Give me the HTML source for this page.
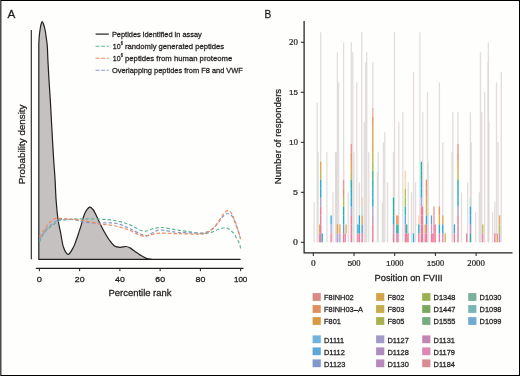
<!DOCTYPE html>
<html><head><meta charset="utf-8"><style>
html,body{margin:0;padding:0;background:#fff;}
#c{position:relative;width:520px;height:376px;overflow:hidden;background:#fefefd;}
.b{position:absolute;}
svg text{stroke:#231f20;stroke-width:0.28px;}
svg text.tk{stroke-width:0.2px;}
</style></head><body><div id="c">
<svg width="520" height="376" viewBox="0 0 520 376" style="position:absolute;left:0;top:0;will-change:transform">
<g font-family="Liberation Sans" fill="#231f20">
<path d="M38.8,259.3 L38.8,44  C38.87,42.83 39.00,39.33 39.20,37.00 C39.40,34.67 39.70,32.08 40.00,30.00 C40.30,27.92 40.62,25.92 41.00,24.50 C41.38,23.08 41.87,21.50 42.30,21.50 C42.73,21.50 43.13,23.08 43.60,24.50 C44.07,25.92 44.65,27.75 45.10,30.00 C45.55,32.25 45.93,35.33 46.30,38.00 C46.67,40.67 47.03,42.33 47.30,46.00 C47.57,49.67 47.62,54.33 47.90,60.00 C48.18,65.67 48.60,73.33 49.00,80.00 C49.40,86.67 49.90,93.33 50.30,100.00 C50.70,106.67 51.03,113.33 51.40,120.00 C51.77,126.67 52.12,133.33 52.50,140.00 C52.88,146.67 53.27,153.33 53.70,160.00 C54.13,166.67 54.70,173.33 55.10,180.00 C55.50,186.67 55.60,193.33 56.10,200.00 C56.60,206.67 57.33,214.47 58.10,220.00 C58.87,225.53 59.80,228.65 60.70,233.20 C61.60,237.75 62.25,243.77 63.50,247.30 C64.75,250.83 66.55,254.40 68.20,254.40 C69.85,254.40 72.07,249.65 73.40,247.30 C74.73,244.95 75.33,242.65 76.20,240.30 C77.07,237.95 77.82,235.55 78.60,233.20 C79.38,230.85 80.20,228.55 80.90,226.20 C81.60,223.85 82.05,221.47 82.80,219.10 C83.55,216.73 84.25,214.00 85.40,212.00 C86.55,210.00 88.43,207.52 89.70,207.10 C90.97,206.68 91.93,208.18 93.00,209.50 C94.07,210.82 95.02,212.85 96.10,215.00 C97.18,217.15 98.12,219.57 99.50,222.40 C100.88,225.23 102.77,229.07 104.40,232.00 C106.03,234.93 107.67,237.70 109.30,240.00 C110.93,242.30 112.42,244.57 114.20,245.80 C115.98,247.03 118.03,247.28 120.00,247.40 C121.97,247.52 124.33,246.42 126.00,246.50 C127.67,246.58 128.50,247.08 130.00,247.90 C131.50,248.72 133.08,250.08 135.00,251.40 C136.92,252.72 139.50,254.60 141.50,255.80 C143.50,257.00 145.25,258.02 147.00,258.60 C148.75,259.18 151.17,259.18 152.00,259.30 L240.6,259.3 Z" fill="#c5c1c0" stroke="#231f20" stroke-width="1.2"/>
<path d="M39.50,242.20 C40.25,240.67 42.25,235.48 44.00,233.00 C45.75,230.52 48.17,228.87 50.00,227.30 C51.83,225.73 53.33,224.73 55.00,223.60 C56.67,222.47 57.50,221.22 60.00,220.50 C62.50,219.78 65.83,219.58 70.00,219.30 C74.17,219.02 80.00,218.82 85.00,218.80 C90.00,218.78 95.83,219.03 100.00,219.20 C104.17,219.37 106.67,219.40 110.00,219.80 C113.33,220.20 116.67,220.75 120.00,221.60 C123.33,222.45 126.08,223.30 130.00,224.90 C133.92,226.50 139.83,230.52 143.50,231.20 C147.17,231.88 148.97,229.62 152.00,229.00 C155.03,228.38 157.87,227.38 161.70,227.50 C165.53,227.62 171.12,229.10 175.00,229.70 C178.88,230.30 180.83,230.47 185.00,231.10 C189.17,231.73 196.67,233.07 200.00,233.50 C203.33,233.93 203.00,233.93 205.00,233.70 C207.00,233.47 209.83,232.80 212.00,232.10 C214.17,231.40 215.72,230.23 218.00,229.50 C220.28,228.77 223.70,227.62 225.70,227.70 C227.70,227.78 228.62,229.00 230.00,230.00 C231.38,231.00 232.83,232.20 234.00,233.70 C235.17,235.20 236.08,237.32 237.00,239.00 C237.92,240.68 238.90,242.23 239.50,243.80 C240.10,245.37 240.42,247.63 240.60,248.40" fill="none" stroke="#5fb497" stroke-width="1.2" stroke-dasharray="3.5,2.1"/>
<path d="M39.50,239.60 C40.42,238.17 43.25,233.32 45.00,231.00 C46.75,228.68 48.33,227.20 50.00,225.70 C51.67,224.20 53.67,222.97 55.00,222.00 C56.33,221.03 56.33,220.35 58.00,219.90 C59.67,219.45 62.17,219.32 65.00,219.30 C67.83,219.28 71.67,219.30 75.00,219.80 C78.33,220.30 80.83,221.77 85.00,222.30 C89.17,222.83 95.83,222.92 100.00,223.00 C104.17,223.08 106.67,222.57 110.00,222.80 C113.33,223.03 116.67,223.40 120.00,224.40 C123.33,225.40 125.83,226.95 130.00,228.80 C134.17,230.65 141.33,234.80 145.00,235.50 C148.67,236.20 149.50,233.92 152.00,233.00 C154.50,232.08 156.17,230.15 160.00,230.00 C163.83,229.85 170.83,231.65 175.00,232.10 C179.17,232.55 180.83,232.55 185.00,232.70 C189.17,232.85 196.67,233.02 200.00,233.00 C203.33,232.98 203.33,233.00 205.00,232.60 C206.67,232.20 208.33,231.62 210.00,230.60 C211.67,229.58 213.33,228.18 215.00,226.50 C216.67,224.82 218.67,222.17 220.00,220.50 C221.33,218.83 221.83,217.67 223.00,216.50 C224.17,215.33 225.50,213.58 227.00,213.50 C228.50,213.42 230.67,214.50 232.00,216.00 C233.33,217.50 234.00,220.08 235.00,222.50 C236.00,224.92 237.07,227.75 238.00,230.50 C238.93,233.25 240.17,237.58 240.60,239.00" fill="none" stroke="#8898ca" stroke-width="1.2" stroke-dasharray="3.5,2.1"/>
<path d="M39.50,236.90 C40.42,235.48 43.25,230.88 45.00,228.40 C46.75,225.92 48.33,223.63 50.00,222.00 C51.67,220.37 53.67,219.22 55.00,218.60 C56.33,217.98 56.33,218.27 58.00,218.30 C59.67,218.33 62.17,218.60 65.00,218.80 C67.83,219.00 71.67,219.17 75.00,219.50 C78.33,219.83 80.83,220.05 85.00,220.80 C89.17,221.55 95.83,223.30 100.00,224.00 C104.17,224.70 106.67,224.47 110.00,225.00 C113.33,225.53 116.67,226.30 120.00,227.20 C123.33,228.10 126.17,228.90 130.00,230.40 C133.83,231.90 139.33,235.52 143.00,236.20 C146.67,236.88 149.17,235.02 152.00,234.50 C154.83,233.98 156.17,233.25 160.00,233.10 C163.83,232.95 170.83,233.48 175.00,233.60 C179.17,233.72 180.83,233.70 185.00,233.80 C189.17,233.90 196.67,234.30 200.00,234.20 C203.33,234.10 203.33,233.72 205.00,233.20 C206.67,232.68 208.33,232.25 210.00,231.10 C211.67,229.95 213.33,228.25 215.00,226.30 C216.67,224.35 218.67,221.35 220.00,219.40 C221.33,217.45 221.68,216.12 223.00,214.60 C224.32,213.08 226.40,210.40 227.90,210.30 C229.40,210.20 230.82,212.22 232.00,214.00 C233.18,215.78 234.00,218.33 235.00,221.00 C236.00,223.67 237.07,226.97 238.00,230.00 C238.93,233.03 240.17,237.67 240.60,239.20" fill="none" stroke="#ee895e" stroke-width="1.2" stroke-dasharray="3.5,2.1"/>
<line x1="31.3" y1="30" x2="31.3" y2="259.3" stroke="#231f20" stroke-width="1.1"/>
<line x1="35.9" y1="268.4" x2="243.5" y2="268.4" stroke="#231f20" stroke-width="1.15"/>
<line x1="39.40" y1="268.4" x2="39.40" y2="271.2" stroke="#231f20" stroke-width="1"/><line x1="79.65" y1="268.4" x2="79.65" y2="271.2" stroke="#231f20" stroke-width="1"/><line x1="119.90" y1="268.4" x2="119.90" y2="271.2" stroke="#231f20" stroke-width="1"/><line x1="160.15" y1="268.4" x2="160.15" y2="271.2" stroke="#231f20" stroke-width="1"/><line x1="200.40" y1="268.4" x2="200.40" y2="271.2" stroke="#231f20" stroke-width="1"/><line x1="240.65" y1="268.4" x2="240.65" y2="271.2" stroke="#231f20" stroke-width="1"/>
<line x1="95.6" y1="34.1" x2="108.8" y2="34.1" stroke="#231f20" stroke-width="1.2"/>
<line x1="95.6" y1="46.2" x2="108.8" y2="46.2" stroke="#5fb497" stroke-width="1.1" stroke-dasharray="4,1.6"/>
<line x1="95.6" y1="58.3" x2="108.8" y2="58.3" stroke="#ee895e" stroke-width="1.1" stroke-dasharray="4,1.6"/>
<line x1="95.6" y1="70.3" x2="108.8" y2="70.3" stroke="#8898ca" stroke-width="1.1" stroke-dasharray="4,1.6"/>
<rect x="313.45" y="202.30" width="1.3" height="40.00" fill="#d9d1d1" fill-opacity="0.75"/>
<rect x="316.55" y="102.30" width="1.3" height="140.00" fill="#d9d1d1" fill-opacity="0.75"/>
<rect x="317.45" y="152.30" width="1.3" height="90.00" fill="#d9d1d1" fill-opacity="0.75"/>
<rect x="320.05" y="32.30" width="1.3" height="210.00" fill="#d9d1d1" fill-opacity="0.75"/>
<rect x="326.25" y="152.30" width="1.3" height="90.00" fill="#d9d1d1" fill-opacity="0.75"/>
<rect x="332.25" y="192.30" width="1.3" height="50.00" fill="#d9d1d1" fill-opacity="0.75"/>
<rect x="334.95" y="152.30" width="1.3" height="90.00" fill="#d9d1d1" fill-opacity="0.75"/>
<rect x="335.75" y="152.30" width="1.3" height="90.00" fill="#d9d1d1" fill-opacity="0.75"/>
<rect x="336.75" y="52.30" width="1.3" height="190.00" fill="#d9d1d1" fill-opacity="0.75"/>
<rect x="337.95" y="82.30" width="1.3" height="160.00" fill="#d9d1d1" fill-opacity="0.75"/>
<rect x="342.95" y="42.30" width="1.3" height="200.00" fill="#d9d1d1" fill-opacity="0.75"/>
<rect x="347.55" y="192.30" width="1.3" height="50.00" fill="#d9d1d1" fill-opacity="0.75"/>
<rect x="350.65" y="42.30" width="1.3" height="200.00" fill="#d9d1d1" fill-opacity="0.75"/>
<rect x="352.15" y="52.30" width="1.3" height="190.00" fill="#d9d1d1" fill-opacity="0.75"/>
<rect x="353.25" y="152.30" width="1.3" height="90.00" fill="#d9d1d1" fill-opacity="0.75"/>
<rect x="356.15" y="82.30" width="1.3" height="160.00" fill="#d9d1d1" fill-opacity="0.75"/>
<rect x="358.75" y="182.30" width="1.3" height="60.00" fill="#d9d1d1" fill-opacity="0.75"/>
<rect x="361.05" y="32.30" width="1.3" height="210.00" fill="#d9d1d1" fill-opacity="0.75"/>
<rect x="363.65" y="122.30" width="1.3" height="120.00" fill="#d9d1d1" fill-opacity="0.75"/>
<rect x="365.05" y="62.30" width="1.3" height="180.00" fill="#d9d1d1" fill-opacity="0.75"/>
<rect x="366.05" y="52.30" width="1.3" height="190.00" fill="#d9d1d1" fill-opacity="0.75"/>
<rect x="368.15" y="152.30" width="1.3" height="90.00" fill="#d9d1d1" fill-opacity="0.75"/>
<rect x="372.15" y="62.30" width="1.3" height="180.00" fill="#d9d1d1" fill-opacity="0.75"/>
<rect x="376.85" y="172.30" width="1.3" height="70.00" fill="#d9d1d1" fill-opacity="0.75"/>
<rect x="377.55" y="152.30" width="1.3" height="90.00" fill="#d9d1d1" fill-opacity="0.75"/>
<rect x="381.75" y="202.30" width="1.3" height="40.00" fill="#d9d1d1" fill-opacity="0.75"/>
<rect x="382.85" y="142.30" width="1.3" height="100.00" fill="#d9d1d1" fill-opacity="0.75"/>
<rect x="384.15" y="132.30" width="1.3" height="110.00" fill="#d9d1d1" fill-opacity="0.75"/>
<rect x="386.85" y="182.30" width="1.3" height="60.00" fill="#d9d1d1" fill-opacity="0.75"/>
<rect x="392.85" y="152.30" width="1.3" height="90.00" fill="#d9d1d1" fill-opacity="0.75"/>
<rect x="393.85" y="32.30" width="1.3" height="210.00" fill="#d9d1d1" fill-opacity="0.75"/>
<rect x="398.15" y="122.30" width="1.3" height="120.00" fill="#d9d1d1" fill-opacity="0.75"/>
<rect x="402.15" y="112.30" width="1.3" height="130.00" fill="#d9d1d1" fill-opacity="0.75"/>
<rect x="407.65" y="182.30" width="1.3" height="60.00" fill="#d9d1d1" fill-opacity="0.75"/>
<rect x="410.85" y="192.30" width="1.3" height="50.00" fill="#d9d1d1" fill-opacity="0.75"/>
<rect x="412.85" y="72.30" width="1.3" height="170.00" fill="#d9d1d1" fill-opacity="0.75"/>
<rect x="414.85" y="182.30" width="1.3" height="60.00" fill="#d9d1d1" fill-opacity="0.75"/>
<rect x="419.25" y="32.30" width="1.3" height="210.00" fill="#d9d1d1" fill-opacity="0.75"/>
<rect x="422.15" y="112.30" width="1.3" height="130.00" fill="#d9d1d1" fill-opacity="0.75"/>
<rect x="426.85" y="92.30" width="1.3" height="150.00" fill="#d9d1d1" fill-opacity="0.75"/>
<rect x="427.55" y="162.30" width="1.3" height="80.00" fill="#d9d1d1" fill-opacity="0.75"/>
<rect x="438.75" y="82.30" width="1.3" height="160.00" fill="#d9d1d1" fill-opacity="0.75"/>
<rect x="442.15" y="142.30" width="1.3" height="100.00" fill="#d9d1d1" fill-opacity="0.75"/>
<rect x="451.25" y="152.30" width="1.3" height="90.00" fill="#d9d1d1" fill-opacity="0.75"/>
<rect x="452.25" y="112.30" width="1.3" height="130.00" fill="#d9d1d1" fill-opacity="0.75"/>
<rect x="457.35" y="112.30" width="1.3" height="130.00" fill="#d9d1d1" fill-opacity="0.75"/>
<rect x="460.85" y="192.30" width="1.3" height="50.00" fill="#d9d1d1" fill-opacity="0.75"/>
<rect x="466.95" y="182.30" width="1.3" height="60.00" fill="#d9d1d1" fill-opacity="0.75"/>
<rect x="469.75" y="112.30" width="1.3" height="130.00" fill="#d9d1d1" fill-opacity="0.75"/>
<rect x="470.55" y="142.30" width="1.3" height="100.00" fill="#d9d1d1" fill-opacity="0.75"/>
<rect x="474.95" y="212.30" width="1.3" height="30.00" fill="#d9d1d1" fill-opacity="0.75"/>
<rect x="478.65" y="192.30" width="1.3" height="50.00" fill="#d9d1d1" fill-opacity="0.75"/>
<rect x="479.85" y="52.30" width="1.3" height="190.00" fill="#d9d1d1" fill-opacity="0.75"/>
<rect x="481.05" y="112.30" width="1.3" height="130.00" fill="#d9d1d1" fill-opacity="0.75"/>
<rect x="483.95" y="92.30" width="1.3" height="150.00" fill="#d9d1d1" fill-opacity="0.75"/>
<rect x="487.35" y="62.30" width="1.3" height="180.00" fill="#d9d1d1" fill-opacity="0.75"/>
<rect x="487.75" y="42.30" width="1.3" height="200.00" fill="#d9d1d1" fill-opacity="0.75"/>
<rect x="488.25" y="122.30" width="1.3" height="120.00" fill="#d9d1d1" fill-opacity="0.75"/>
<rect x="491.95" y="212.30" width="1.3" height="30.00" fill="#d9d1d1" fill-opacity="0.75"/>
<rect x="494.15" y="202.30" width="1.3" height="40.00" fill="#d9d1d1" fill-opacity="0.75"/>
<rect x="495.85" y="82.30" width="1.3" height="160.00" fill="#d9d1d1" fill-opacity="0.75"/>
<rect x="497.55" y="142.30" width="1.3" height="100.00" fill="#d9d1d1" fill-opacity="0.75"/>
<rect x="500.65" y="72.30" width="1.3" height="170.00" fill="#d9d1d1" fill-opacity="0.75"/>
<rect x="319.05" y="233.35" width="1.3" height="8.95" fill="#f07b9e"/>
<rect x="319.05" y="224.40" width="1.3" height="8.95" fill="#e3a64a"/>
<rect x="320.05" y="233.35" width="1.3" height="8.95" fill="#f07b9e"/>
<rect x="320.05" y="224.40" width="1.3" height="8.95" fill="#f07b9e"/>
<rect x="320.05" y="215.45" width="1.3" height="8.95" fill="#f07b9e"/>
<rect x="320.05" y="206.50" width="1.3" height="8.95" fill="#f07b9e"/>
<rect x="320.05" y="197.55" width="1.3" height="8.95" fill="#a9a5da"/>
<rect x="320.05" y="188.60" width="1.3" height="8.95" fill="#1eaed8"/>
<rect x="320.05" y="179.65" width="1.3" height="8.95" fill="#1eaed8"/>
<rect x="320.05" y="170.70" width="1.3" height="8.95" fill="#c4b848"/>
<rect x="320.05" y="161.75" width="1.3" height="8.95" fill="#e3a64a"/>
<rect x="321.55" y="233.35" width="1.3" height="8.95" fill="#1eaed8"/>
<rect x="330.45" y="233.35" width="1.3" height="8.95" fill="#f07b9e"/>
<rect x="330.45" y="224.40" width="1.3" height="8.95" fill="#a9a5da"/>
<rect x="330.45" y="215.45" width="1.3" height="8.95" fill="#1eaed8"/>
<rect x="336.75" y="233.35" width="1.3" height="8.95" fill="#a9a5da"/>
<rect x="336.75" y="224.40" width="1.3" height="8.95" fill="#e3a64a"/>
<rect x="339.25" y="233.35" width="1.3" height="8.95" fill="#c592c8"/>
<rect x="339.25" y="224.40" width="1.3" height="8.95" fill="#e3a64a"/>
<rect x="342.95" y="233.35" width="1.3" height="8.95" fill="#f07b9e"/>
<rect x="342.95" y="224.40" width="1.3" height="8.95" fill="#5c9fe0"/>
<rect x="342.95" y="215.45" width="1.3" height="8.95" fill="#1eaed8"/>
<rect x="342.95" y="206.50" width="1.3" height="8.95" fill="#1fb3a3"/>
<rect x="342.95" y="197.55" width="1.3" height="8.95" fill="#c4b848"/>
<rect x="342.95" y="188.60" width="1.3" height="8.95" fill="#f0905e"/>
<rect x="342.95" y="179.65" width="1.3" height="8.95" fill="#f39490"/>
<rect x="342.95" y="170.70" width="1.3" height="8.95" fill="#f8d6dc"/>
<rect x="344.55" y="233.35" width="1.3" height="8.95" fill="#f07b9e"/>
<rect x="345.45" y="224.40" width="1.3" height="8.95" fill="#e3a64a"/>
<rect x="350.65" y="233.35" width="1.3" height="8.95" fill="#f07b9e"/>
<rect x="350.65" y="224.40" width="1.3" height="8.95" fill="#f07b9e"/>
<rect x="350.65" y="215.45" width="1.3" height="8.95" fill="#f07b9e"/>
<rect x="350.65" y="206.50" width="1.3" height="8.95" fill="#a9a5da"/>
<rect x="350.65" y="197.55" width="1.3" height="8.95" fill="#1eaed8"/>
<rect x="350.65" y="188.60" width="1.3" height="8.95" fill="#1eaed8"/>
<rect x="350.65" y="179.65" width="1.3" height="8.95" fill="#1fb3a3"/>
<rect x="350.65" y="170.70" width="1.3" height="8.95" fill="#c4b848"/>
<rect x="350.65" y="161.75" width="1.3" height="8.95" fill="#e3a64a"/>
<rect x="350.65" y="152.80" width="1.3" height="8.95" fill="#f0905e"/>
<rect x="350.65" y="143.85" width="1.3" height="8.95" fill="#f39490"/>
<rect x="357.25" y="233.35" width="1.3" height="8.95" fill="#f07b9e"/>
<rect x="357.25" y="224.40" width="1.3" height="8.95" fill="#1eaed8"/>
<rect x="358.75" y="233.35" width="1.3" height="8.95" fill="#f07b9e"/>
<rect x="358.75" y="224.40" width="1.3" height="8.95" fill="#1eaed8"/>
<rect x="358.75" y="215.45" width="1.3" height="8.95" fill="#1eaed8"/>
<rect x="361.55" y="233.35" width="1.3" height="8.95" fill="#f07b9e"/>
<rect x="361.55" y="224.40" width="1.3" height="8.95" fill="#5c9fe0"/>
<rect x="361.55" y="215.45" width="1.3" height="8.95" fill="#e3a64a"/>
<rect x="361.55" y="206.50" width="1.3" height="8.95" fill="#bfe0d6"/>
<rect x="361.55" y="197.55" width="1.3" height="8.95" fill="#f9cfb4"/>
<rect x="372.15" y="233.35" width="1.3" height="8.95" fill="#f07b9e"/>
<rect x="372.15" y="224.40" width="1.3" height="8.95" fill="#f07b9e"/>
<rect x="372.15" y="215.45" width="1.3" height="8.95" fill="#c592c8"/>
<rect x="372.15" y="206.50" width="1.3" height="8.95" fill="#a9a5da"/>
<rect x="372.15" y="197.55" width="1.3" height="8.95" fill="#1eaed8"/>
<rect x="372.15" y="188.60" width="1.3" height="8.95" fill="#1eaed8"/>
<rect x="372.15" y="179.65" width="1.3" height="8.95" fill="#1fb3a3"/>
<rect x="372.15" y="170.70" width="1.3" height="8.95" fill="#44b878"/>
<rect x="372.15" y="161.75" width="1.3" height="8.95" fill="#9cc048"/>
<rect x="372.15" y="152.80" width="1.3" height="8.95" fill="#c4b848"/>
<rect x="372.15" y="143.85" width="1.3" height="8.95" fill="#e3a64a"/>
<rect x="372.15" y="134.90" width="1.3" height="8.95" fill="#e3a64a"/>
<rect x="372.15" y="125.95" width="1.3" height="8.95" fill="#e3a64a"/>
<rect x="372.15" y="117.00" width="1.3" height="8.95" fill="#f0905e"/>
<rect x="372.15" y="108.05" width="1.3" height="8.95" fill="#f6b0a8"/>
<rect x="392.85" y="233.35" width="1.3" height="8.95" fill="#f07b9e"/>
<rect x="392.85" y="224.40" width="1.3" height="8.95" fill="#c592c8"/>
<rect x="392.85" y="215.45" width="1.3" height="8.95" fill="#1eaed8"/>
<rect x="392.85" y="206.50" width="1.3" height="8.95" fill="#1fb3a3"/>
<rect x="392.85" y="197.55" width="1.3" height="8.95" fill="#1fb3a3"/>
<rect x="396.15" y="233.35" width="1.3" height="8.95" fill="#c592c8"/>
<rect x="396.15" y="224.40" width="1.3" height="8.95" fill="#1fb3a3"/>
<rect x="396.15" y="215.45" width="1.3" height="8.95" fill="#f0905e"/>
<rect x="397.25" y="233.35" width="1.3" height="8.95" fill="#f07b9e"/>
<rect x="397.25" y="224.40" width="1.3" height="8.95" fill="#1fb3a3"/>
<rect x="397.25" y="215.45" width="1.3" height="8.95" fill="#f0905e"/>
<rect x="404.65" y="233.35" width="1.3" height="8.95" fill="#f07b9e"/>
<rect x="404.65" y="224.40" width="1.3" height="8.95" fill="#c592c8"/>
<rect x="404.65" y="215.45" width="1.3" height="8.95" fill="#5c9fe0"/>
<rect x="404.65" y="206.50" width="1.3" height="8.95" fill="#1fb3a3"/>
<rect x="404.65" y="197.55" width="1.3" height="8.95" fill="#9cc048"/>
<rect x="404.65" y="188.60" width="1.3" height="8.95" fill="#c4b848"/>
<rect x="404.65" y="179.65" width="1.3" height="8.95" fill="#eee0a4"/>
<rect x="404.65" y="170.70" width="1.3" height="8.95" fill="#f9cfb4"/>
<rect x="406.05" y="233.35" width="1.3" height="8.95" fill="#f07b9e"/>
<rect x="406.05" y="224.40" width="1.3" height="8.95" fill="#1fb3a3"/>
<rect x="407.35" y="233.35" width="1.3" height="8.95" fill="#f07b9e"/>
<rect x="412.85" y="233.35" width="1.3" height="8.95" fill="#1eaed8"/>
<rect x="418.15" y="233.35" width="1.3" height="8.95" fill="#f07b9e"/>
<rect x="418.15" y="224.40" width="1.3" height="8.95" fill="#1eaed8"/>
<rect x="418.15" y="215.45" width="1.3" height="8.95" fill="#f9cfb4"/>
<rect x="420.75" y="233.35" width="1.3" height="8.95" fill="#f07b9e"/>
<rect x="420.75" y="224.40" width="1.3" height="8.95" fill="#f07b9e"/>
<rect x="420.75" y="215.45" width="1.3" height="8.95" fill="#f07b9e"/>
<rect x="420.75" y="206.50" width="1.3" height="8.95" fill="#f07b9e"/>
<rect x="420.75" y="197.55" width="1.3" height="8.95" fill="#a9a5da"/>
<rect x="420.75" y="188.60" width="1.3" height="8.95" fill="#1eaed8"/>
<rect x="420.75" y="179.65" width="1.3" height="8.95" fill="#1eaed8"/>
<rect x="420.75" y="170.70" width="1.3" height="8.95" fill="#1fb3a3"/>
<rect x="420.75" y="161.75" width="1.3" height="8.95" fill="#1fb3a3"/>
<rect x="421.85" y="233.35" width="1.3" height="8.95" fill="#f07b9e"/>
<rect x="421.85" y="224.40" width="1.3" height="8.95" fill="#f07b9e"/>
<rect x="421.85" y="215.45" width="1.3" height="8.95" fill="#f07b9e"/>
<rect x="421.85" y="206.50" width="1.3" height="8.95" fill="#f07b9e"/>
<rect x="424.55" y="233.35" width="1.3" height="8.95" fill="#f07b9e"/>
<rect x="424.55" y="224.40" width="1.3" height="8.95" fill="#c4b848"/>
<rect x="425.75" y="233.35" width="1.3" height="8.95" fill="#f07b9e"/>
<rect x="425.75" y="224.40" width="1.3" height="8.95" fill="#f07b9e"/>
<rect x="425.75" y="215.45" width="1.3" height="8.95" fill="#1eaed8"/>
<rect x="425.75" y="206.50" width="1.3" height="8.95" fill="#c4b848"/>
<rect x="425.75" y="197.55" width="1.3" height="8.95" fill="#e3a64a"/>
<rect x="425.75" y="188.60" width="1.3" height="8.95" fill="#f0905e"/>
<rect x="425.75" y="179.65" width="1.3" height="8.95" fill="#f0905e"/>
<rect x="430.85" y="233.35" width="1.3" height="8.95" fill="#f07b9e"/>
<rect x="430.85" y="224.40" width="1.3" height="8.95" fill="#a9a5da"/>
<rect x="430.85" y="215.45" width="1.3" height="8.95" fill="#5c9fe0"/>
<rect x="432.15" y="233.35" width="1.3" height="8.95" fill="#f07b9e"/>
<rect x="433.35" y="233.35" width="1.3" height="8.95" fill="#f07b9e"/>
<rect x="433.35" y="224.40" width="1.3" height="8.95" fill="#f07b9e"/>
<rect x="433.35" y="215.45" width="1.3" height="8.95" fill="#f39490"/>
<rect x="433.35" y="206.50" width="1.3" height="8.95" fill="#f39490"/>
<rect x="434.55" y="233.35" width="1.3" height="8.95" fill="#f07b9e"/>
<rect x="434.55" y="224.40" width="1.3" height="8.95" fill="#f07b9e"/>
<rect x="438.75" y="233.35" width="1.3" height="8.95" fill="#f07b9e"/>
<rect x="438.75" y="224.40" width="1.3" height="8.95" fill="#1eaed8"/>
<rect x="438.75" y="215.45" width="1.3" height="8.95" fill="#e3a64a"/>
<rect x="438.75" y="206.50" width="1.3" height="8.95" fill="#f0905e"/>
<rect x="442.15" y="233.35" width="1.3" height="8.95" fill="#c592c8"/>
<rect x="442.15" y="224.40" width="1.3" height="8.95" fill="#1eaed8"/>
<rect x="442.15" y="215.45" width="1.3" height="8.95" fill="#e3a64a"/>
<rect x="444.55" y="233.35" width="1.3" height="8.95" fill="#e3a64a"/>
<rect x="453.75" y="233.35" width="1.3" height="8.95" fill="#f07b9e"/>
<rect x="453.75" y="224.40" width="1.3" height="8.95" fill="#1eaed8"/>
<rect x="457.35" y="233.35" width="1.3" height="8.95" fill="#f07b9e"/>
<rect x="457.35" y="224.40" width="1.3" height="8.95" fill="#f07b9e"/>
<rect x="457.35" y="215.45" width="1.3" height="8.95" fill="#f07b9e"/>
<rect x="457.35" y="206.50" width="1.3" height="8.95" fill="#a9a5da"/>
<rect x="457.35" y="197.55" width="1.3" height="8.95" fill="#1eaed8"/>
<rect x="457.35" y="188.60" width="1.3" height="8.95" fill="#1eaed8"/>
<rect x="457.35" y="179.65" width="1.3" height="8.95" fill="#1fb3a3"/>
<rect x="457.35" y="170.70" width="1.3" height="8.95" fill="#c4b848"/>
<rect x="457.35" y="161.75" width="1.3" height="8.95" fill="#e3a64a"/>
<rect x="457.35" y="152.80" width="1.3" height="8.95" fill="#f0905e"/>
<rect x="457.35" y="143.85" width="1.3" height="8.95" fill="#f39490"/>
<rect x="466.05" y="233.35" width="1.3" height="8.95" fill="#f07b9e"/>
<rect x="469.75" y="233.35" width="1.3" height="8.95" fill="#1fb3a3"/>
<rect x="469.75" y="224.40" width="1.3" height="8.95" fill="#c592c8"/>
<rect x="469.75" y="215.45" width="1.3" height="8.95" fill="#1eaed8"/>
<rect x="469.75" y="206.50" width="1.3" height="8.95" fill="#1eaed8"/>
<rect x="469.75" y="197.55" width="1.3" height="8.95" fill="#bfe0d6"/>
<rect x="482.15" y="233.35" width="1.3" height="8.95" fill="#f07b9e"/>
<rect x="482.15" y="224.40" width="1.3" height="8.95" fill="#c4b848"/>
<rect x="494.15" y="233.35" width="1.3" height="8.95" fill="#f07b9e"/>
<rect x="496.75" y="233.35" width="1.3" height="8.95" fill="#e3a64a"/>
<rect x="498.95" y="233.35" width="1.3" height="8.95" fill="#c592c8"/>
<rect x="498.95" y="224.40" width="1.3" height="8.95" fill="#c4b848"/>
<rect x="498.95" y="215.45" width="1.3" height="8.95" fill="#e3a64a"/>
<path d="M304.1,20.9 L304.1,252.8 L512.5,252.8" fill="none" stroke="#231f20" stroke-width="1.25"/>
<line x1="300.8" y1="242.30" x2="304.1" y2="242.30" stroke="#231f20" stroke-width="1"/><text x="293.05" y="244.90" class="tk" font-size="7.8" textLength="4.90" lengthAdjust="spacingAndGlyphs"><tspan font-family="Liberation Serif">0</tspan></text><line x1="300.8" y1="192.30" x2="304.1" y2="192.30" stroke="#231f20" stroke-width="1"/><text x="293.05" y="194.90" class="tk" font-size="7.8" textLength="4.90" lengthAdjust="spacingAndGlyphs">5</text><line x1="300.8" y1="142.30" x2="304.1" y2="142.30" stroke="#231f20" stroke-width="1"/><text x="289.05" y="144.90" class="tk" font-size="7.8" textLength="8.90" lengthAdjust="spacingAndGlyphs">1<tspan font-family="Liberation Serif">0</tspan></text><line x1="300.8" y1="92.30" x2="304.1" y2="92.30" stroke="#231f20" stroke-width="1"/><text x="289.05" y="94.90" class="tk" font-size="7.8" textLength="8.90" lengthAdjust="spacingAndGlyphs">15</text><line x1="300.8" y1="42.30" x2="304.1" y2="42.30" stroke="#231f20" stroke-width="1"/><text x="289.05" y="44.90" class="tk" font-size="7.8" textLength="8.90" lengthAdjust="spacingAndGlyphs"><tspan font-family="Liberation Serif">2</tspan><tspan font-family="Liberation Serif">0</tspan></text><line x1="313.30" y1="252.8" x2="313.30" y2="256.0" stroke="#231f20" stroke-width="1"/><text x="310.95" y="266.4" class="tk" font-size="7.6" textLength="4.70" lengthAdjust="spacingAndGlyphs"><tspan font-family="Liberation Serif">0</tspan></text><line x1="354.00" y1="252.8" x2="354.00" y2="256.0" stroke="#231f20" stroke-width="1"/><text x="347.40" y="266.4" class="tk" font-size="7.6" textLength="13.20" lengthAdjust="spacingAndGlyphs">5<tspan font-family="Liberation Serif">0</tspan><tspan font-family="Liberation Serif">0</tspan></text><line x1="394.70" y1="252.8" x2="394.70" y2="256.0" stroke="#231f20" stroke-width="1"/><text x="385.95" y="266.4" class="tk" font-size="7.6" textLength="17.50" lengthAdjust="spacingAndGlyphs">1<tspan font-family="Liberation Serif">0</tspan><tspan font-family="Liberation Serif">0</tspan><tspan font-family="Liberation Serif">0</tspan></text><line x1="435.40" y1="252.8" x2="435.40" y2="256.0" stroke="#231f20" stroke-width="1"/><text x="426.65" y="266.4" class="tk" font-size="7.6" textLength="17.50" lengthAdjust="spacingAndGlyphs">15<tspan font-family="Liberation Serif">0</tspan><tspan font-family="Liberation Serif">0</tspan></text><line x1="476.10" y1="252.8" x2="476.10" y2="256.0" stroke="#231f20" stroke-width="1"/><text x="467.35" y="266.4" class="tk" font-size="7.6" textLength="17.50" lengthAdjust="spacingAndGlyphs"><tspan font-family="Liberation Serif">2</tspan><tspan font-family="Liberation Serif">0</tspan><tspan font-family="Liberation Serif">0</tspan><tspan font-family="Liberation Serif">0</tspan></text>
<rect x="312.6" y="293.1" width="8.2" height="7.8" fill="#d98b84"/><text transform="translate(324.00,300.20) scale(0.93,1)" font-size="8.0">F8INH02</text><rect x="312.6" y="305.1" width="8.2" height="7.8" fill="#e0905e"/><text transform="translate(324.00,312.20) scale(0.93,1)" font-size="8.0">F8INH03–A</text><rect x="312.6" y="317.1" width="8.2" height="7.8" fill="#d99a40"/><text transform="translate(324.00,324.20) scale(0.93,1)" font-size="8.0">F801</text><rect x="376.1" y="293.1" width="8.2" height="7.8" fill="#d4a24a"/><text transform="translate(387.50,300.20) scale(0.93,1)" font-size="8.0">F802</text><rect x="376.1" y="305.1" width="8.2" height="7.8" fill="#c4ab4c"/><text transform="translate(387.50,312.20) scale(0.93,1)" font-size="8.0">F803</text><rect x="376.1" y="317.1" width="8.2" height="7.8" fill="#a8b24f"/><text transform="translate(387.50,324.20) scale(0.93,1)" font-size="8.0">F805</text><rect x="422.2" y="293.1" width="8.2" height="7.8" fill="#98b04e"/><text transform="translate(433.60,300.20) scale(0.93,1)" font-size="8.0">D1348</text><rect x="422.2" y="305.1" width="8.2" height="7.8" fill="#78a75e"/><text transform="translate(433.60,312.20) scale(0.93,1)" font-size="8.0">D1447</text><rect x="422.2" y="317.1" width="8.2" height="7.8" fill="#76ab80"/><text transform="translate(433.60,324.20) scale(0.93,1)" font-size="8.0">D1555</text><rect x="468.2" y="293.1" width="8.2" height="7.8" fill="#7ab19a"/><text transform="translate(479.60,300.20) scale(0.93,1)" font-size="8.0">D1030</text><rect x="468.2" y="305.1" width="8.2" height="7.8" fill="#79b4b6"/><text transform="translate(479.60,312.20) scale(0.93,1)" font-size="8.0">D1098</text><rect x="468.2" y="317.1" width="8.2" height="7.8" fill="#6eabd2"/><text transform="translate(479.60,324.20) scale(0.93,1)" font-size="8.0">D1099</text><rect x="312.6" y="335.4" width="8.2" height="7.8" fill="#6fb4dd"/><text transform="translate(324.00,342.50) scale(0.93,1)" font-size="8.0">D1111</text><rect x="312.6" y="347.4" width="8.2" height="7.8" fill="#5ea8d9"/><text transform="translate(324.00,354.50) scale(0.93,1)" font-size="8.0">D1112</text><rect x="312.6" y="359.4" width="8.2" height="7.8" fill="#8098cc"/><text transform="translate(324.00,366.50) scale(0.93,1)" font-size="8.0">D1123</text><rect x="376.1" y="335.4" width="8.2" height="7.8" fill="#a099c9"/><text transform="translate(387.50,342.50) scale(0.93,1)" font-size="8.0">D1127</text><rect x="376.1" y="347.4" width="8.2" height="7.8" fill="#ae8dc0"/><text transform="translate(387.50,354.50) scale(0.93,1)" font-size="8.0">D1128</text><rect x="376.1" y="359.4" width="8.2" height="7.8" fill="#b889b9"/><text transform="translate(387.50,366.50) scale(0.93,1)" font-size="8.0">D1130</text><rect x="422.2" y="335.4" width="8.2" height="7.8" fill="#c486b1"/><text transform="translate(433.60,342.50) scale(0.93,1)" font-size="8.0">D1131</text><rect x="422.2" y="347.4" width="8.2" height="7.8" fill="#dc88b2"/><text transform="translate(433.60,354.50) scale(0.93,1)" font-size="8.0">D1179</text><rect x="422.2" y="359.4" width="8.2" height="7.8" fill="#d98a93"/><text transform="translate(433.60,366.50) scale(0.93,1)" font-size="8.0">D1184</text>
<text x="7.60" y="17.90" text-anchor="start" font-family="Liberation Sans" font-size="11.5" textLength="7.80" lengthAdjust="spacingAndGlyphs">A</text>
<text x="264.60" y="17.90" text-anchor="start" font-family="Liberation Sans" font-size="11.5" textLength="6.80" lengthAdjust="spacingAndGlyphs">B</text>
<text x="111.92" y="36.80" text-anchor="start" font-family="Liberation Sans" font-size="8.0" textLength="89.86" lengthAdjust="spacingAndGlyphs">Peptides identified in assay</text>
<text x="112.72" y="48.70" text-anchor="start" font-family="Liberation Sans" font-size="8.0" textLength="7.86" lengthAdjust="spacingAndGlyphs">10</text>
<text x="120.83" y="45.00" text-anchor="start" font-family="Liberation Sans" font-size="4.8" textLength="2.14" lengthAdjust="spacingAndGlyphs">6</text>
<text x="125.02" y="48.70" text-anchor="start" font-family="Liberation Sans" font-size="8.0" textLength="99.06" lengthAdjust="spacingAndGlyphs">randomly generated peptides</text>
<text x="112.72" y="60.75" text-anchor="start" font-family="Liberation Sans" font-size="8.0" textLength="7.86" lengthAdjust="spacingAndGlyphs">10</text>
<text x="120.83" y="57.05" text-anchor="start" font-family="Liberation Sans" font-size="4.8" textLength="2.14" lengthAdjust="spacingAndGlyphs">6</text>
<text x="125.02" y="60.75" text-anchor="start" font-family="Liberation Sans" font-size="8.0" textLength="107.16" lengthAdjust="spacingAndGlyphs">peptides from human proteome</text>
<text x="111.92" y="72.65" text-anchor="start" font-family="Liberation Sans" font-size="8.0" textLength="130.96" lengthAdjust="spacingAndGlyphs">Overlapping peptides from F8 and VWF</text>
<text x="36.82" y="281.80" text-anchor="start" font-family="Liberation Sans" font-size="8.0" textLength="5.16" lengthAdjust="spacingAndGlyphs">0</text>
<text x="74.77" y="281.80" text-anchor="start" font-family="Liberation Sans" font-size="8.0" textLength="9.76" lengthAdjust="spacingAndGlyphs">20</text>
<text x="115.02" y="281.80" text-anchor="start" font-family="Liberation Sans" font-size="8.0" textLength="9.76" lengthAdjust="spacingAndGlyphs">40</text>
<text x="155.27" y="281.80" text-anchor="start" font-family="Liberation Sans" font-size="8.0" textLength="9.76" lengthAdjust="spacingAndGlyphs">60</text>
<text x="195.52" y="281.80" text-anchor="start" font-family="Liberation Sans" font-size="8.0" textLength="9.76" lengthAdjust="spacingAndGlyphs">80</text>
<text x="233.92" y="281.80" text-anchor="start" font-family="Liberation Sans" font-size="8.0" textLength="13.46" lengthAdjust="spacingAndGlyphs">100</text>
<text x="108.46" y="295.90" text-anchor="start" font-family="Liberation Sans" font-size="9.6" textLength="63.07" lengthAdjust="spacingAndGlyphs">Percentile rank</text>
<text x="-0.33" y="0" transform="translate(24.80,183.90) rotate(-90)" font-family="Liberation Sans" font-size="9.4" textLength="79.76" lengthAdjust="spacingAndGlyphs">Probability density</text>
<text x="-0.33" y="0" transform="translate(281.20,183.90) rotate(-90)" font-family="Liberation Sans" font-size="9.4" textLength="95.36" lengthAdjust="spacingAndGlyphs">Number of responders</text>
<text x="374.57" y="280.50" text-anchor="start" font-family="Liberation Sans" font-size="9.4" textLength="68.06" lengthAdjust="spacingAndGlyphs">Position on FVIII</text>
</g>
</svg>
<div class="b" style="left:0;top:0;width:520px;height:1px;background:#000"></div>
<div class="b" style="left:0;bottom:0;width:520px;height:1px;background:#000"></div>
<div class="b" style="right:0;top:0;width:1px;height:376px;background:#000"></div>
<div class="b" style="left:0;top:0;width:1px;height:376px;background:#4d4d4d"></div>
<div class="b" style="left:1px;top:1px;width:1px;height:374px;background:#a0a0a0"></div>
</div></body></html>
